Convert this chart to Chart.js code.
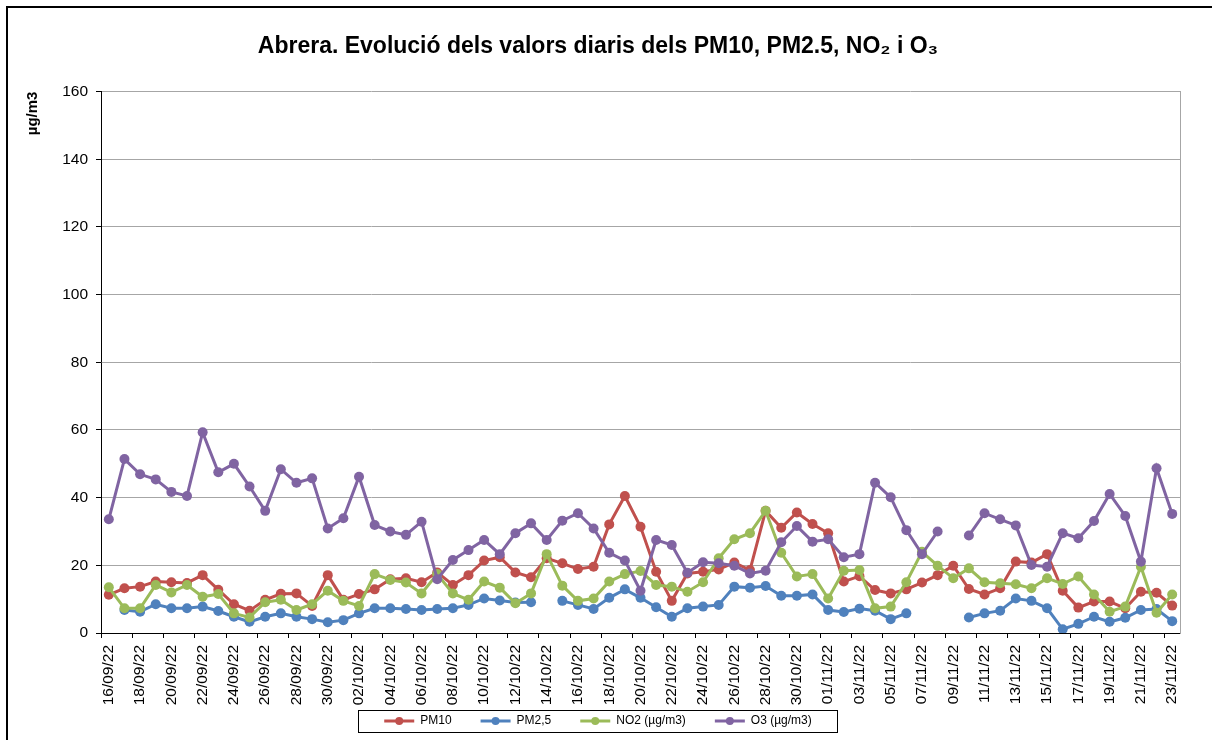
<!DOCTYPE html>
<html><head><meta charset="utf-8">
<script src="https://cdn.jsdelivr.net/npm/chart.js@4.4.1/dist/chart.umd.min.js"></script>
<style>html,body{margin:0;padding:0;background:#fff}#c{display:block}</style>
</head><body>
<canvas id="c" width="1212" height="740"></canvas>
<script>
const categories = [
 '16/09/22','17/09/22','18/09/22','19/09/22','20/09/22','21/09/22','22/09/22','23/09/22','24/09/22','25/09/22',
 '26/09/22','27/09/22','28/09/22','29/09/22','30/09/22','01/10/22','02/10/22','03/10/22','04/10/22','05/10/22',
 '06/10/22','07/10/22','08/10/22','09/10/22','10/10/22','11/10/22','12/10/22','13/10/22','14/10/22','15/10/22',
 '16/10/22','17/10/22','18/10/22','19/10/22','20/10/22','21/10/22','22/10/22','23/10/22','24/10/22','25/10/22',
 '26/10/22','27/10/22','28/10/22','29/10/22','30/10/22','31/10/22','01/11/22','02/11/22','03/11/22','04/11/22',
 '05/11/22','06/11/22','07/11/22','08/11/22','09/11/22','10/11/22','11/11/22','12/11/22','13/11/22','14/11/22',
 '15/11/22','16/11/22','17/11/22','18/11/22','19/11/22','20/11/22','21/11/22','22/11/22','23/11/22'
];
const pm10 = [
 11.3,13.2,13.7,15.2,15.0,14.8,17.1,12.8,8.5,6.6,
 9.8,11.6,11.7,8.0,17.1,9.8,11.5,12.9,15.9,16.2,
 15.0,17.9,14.2,17.1,21.4,22.4,17.9,16.5,22.1,20.6,
 18.9,19.6,32.1,40.5,31.4,18.1,9.5,17.6,18.1,18.8,
 20.8,18.6,36.1,31.1,35.6,32.2,29.5,15.2,16.8,12.7,
 11.7,12.9,14.9,17.1,19.9,13.0,11.4,13.2,21.1,20.8,
 23.3,12.5,7.5,9.3,9.3,7.3,12.2,11.9,8.1
];
const pm25 = [
 null,6.8,6.3,8.5,7.3,7.3,7.8,6.5,4.8,3.3,
 4.8,5.8,4.8,4.1,3.2,3.8,5.8,7.3,7.3,7.1,
 6.8,7.1,7.3,8.3,10.2,9.6,9.0,9.1,null,9.5,
 8.3,7.1,10.4,12.9,10.4,7.6,4.8,7.3,7.8,8.3,
 13.7,13.4,13.9,11.0,11.0,11.4,6.8,6.2,7.2,6.6,
 4.1,5.8,null,null,null,4.6,5.8,6.6,10.2,9.5,
 7.3,1.1,2.7,4.8,3.3,4.5,6.8,7.1,3.5
];
const no2 = [
 13.5,7.3,7.3,14.2,12.0,14.2,10.7,11.5,5.8,4.6,
 9.1,9.8,6.8,8.5,12.5,9.5,8.0,17.4,15.7,14.9,
 11.7,17.4,11.7,9.8,15.2,13.4,8.8,11.7,23.3,14.0,
 9.5,10.2,15.2,17.4,18.3,14.2,13.7,12.2,15.0,22.1,
 27.7,29.5,36.1,23.7,16.7,17.4,10.2,18.4,18.6,7.3,
 7.8,15.0,24.0,19.9,16.2,19.1,15.0,14.7,14.4,13.2,
 16.2,14.5,16.7,11.4,6.3,7.8,19.6,6.0,11.4
];
const o3 = [
 33.6,51.4,46.9,45.4,41.7,40.5,59.3,47.5,50.0,43.3,
 36.1,48.4,44.4,45.7,30.9,33.9,46.2,31.9,30.0,29.0,
 32.9,15.9,21.6,24.5,27.5,23.3,29.5,32.4,27.5,33.2,
 35.4,30.9,23.7,21.4,12.5,27.5,26.0,17.8,20.9,20.6,
 19.9,17.6,18.4,26.8,31.6,27.0,27.7,22.4,23.3,44.4,
 40.1,30.4,23.3,30.0,null,28.8,35.4,33.6,31.8,20.1,
 19.6,29.5,28.0,33.1,41.1,34.6,21.1,48.7,35.2
];
const seriesNames = ['PM10', 'PM2,5', 'NO2 (µg/m3)', 'O3 (µg/m3)'];
const seriesColors = ['#C0504D', '#4F81BD', '#9BBB59', '#8064A2'];
const seriesValues = [pm10, pm25, no2, o3];
const titleText = 'Abrera. Evolució dels valors diaris dels PM10, PM2.5, NO₂ i O₃';
const yAxisTitle = 'µg/m3';

Chart.defaults.font.family = "'Liberation Sans', Arial, Helvetica, sans-serif";
Chart.defaults.color = '#000';

const framePlugin = {
  id: 'frame',
  afterLayout(chart) {
    const lg = chart.legend;
    if (lg) { lg.top -= 22; lg.height += 22; }
  },
  afterDraw(chart) {
    const ctx = chart.ctx;
    ctx.save();
    const lg = chart.legend;
    if (lg && lg.legendHitBoxes && lg.legendHitBoxes.length) {
      const hb = lg.legendHitBoxes;
      const bw = lg.options.labels.boxWidth;
      hb.forEach((h, i) => {
        const item = lg.legendItems[i];
        ctx.beginPath();
        ctx.fillStyle = item.fillStyle;
        ctx.arc(h.left + bw / 2, h.top + h.height / 2, 4, 0, Math.PI * 2);
        ctx.fill();
      });
      const first = hb[0], last = hb[hb.length - 1];
      const cy = first.top + first.height / 2;
      const x0 = Math.round(first.left - 26) + 0.5;
      const x1 = Math.round(last.left + last.width + 25) + 0.5;
      const y0 = Math.round(cy - 11) + 0.5;
      ctx.strokeStyle = '#000';
      ctx.lineWidth = 1;
      ctx.strokeRect(x0, y0, x1 - x0, 22);
    }
    ctx.fillStyle = '#000';
    ctx.fillRect(6, 6, chart.width - 6, 2);
    ctx.fillRect(6, 6, 2, chart.height - 6);
    ctx.restore();
  }
};

const datasets = seriesValues.map((vals, i) => ({
  label: seriesNames[i],
  data: vals,
  borderColor: seriesColors[i],
  backgroundColor: seriesColors[i],
  pointBackgroundColor: seriesColors[i],
  pointBorderColor: seriesColors[i],
  borderWidth: 3,
  pointRadius: 5,
  pointBorderWidth: 0,
  tension: 0,
  spanGaps: false,
  order: seriesValues.length - 1 - i,
  yAxisID: 'y'
}));

new Chart(document.getElementById('c'), {
  type: 'line',
  data: { labels: categories, datasets },
  options: {
    responsive: false,
    animation: false,
    devicePixelRatio: 1,
    layout: { padding: { left: 0, right: 16, top: 0, bottom: 0 } },
    plugins: {
      title: {
        display: true, text: titleText, color: '#000',
        font: { size: 23, weight: 'bold' },
        padding: { top: 33, bottom: 31 }
      },
      legend: {
        display: true, position: 'bottom', maxHeight: 32,
        labels: {
          color: '#000', font: { size: 12 }, padding: 29, boxWidth: 30, boxHeight: 3,
          sort: (a, b) => a.datasetIndex - b.datasetIndex,
          generateLabels(chart) {
            const items = Chart.defaults.plugins.legend.labels.generateLabels(chart);
            items.forEach(it => { it.lineWidth = 0; });
            return items;
          }
        }
      },
      tooltip: { enabled: false }
    },
    scales: {
      x: {
        type: 'category',
        offset: true,
        grid: {
          display: true, drawOnChartArea: false, drawTicks: true, tickLength: 5, offset: true,
          color: 'rgba(0,0,0,0)',
          tickColor: ctx => (ctx.index !== undefined && ctx.index % 2 === 0 ? '#000' : 'rgba(0,0,0,0)')
        },
        border: { display: true, color: '#000', width: 1 },
        ticks: {
          autoSkip: false, maxRotation: 90, minRotation: 90, padding: 7, color: '#000',
          font: { size: 15.5 },
          callback: function (v, i) { return i % 2 === 0 ? this.getLabelForValue(v) : ''; }
        },
        afterFit: s => { s.height = 75; }
      },
      y: {
        position: 'left',
        min: 0, max: 160,
        ticks: { stepSize: 20, color: '#000', font: { size: 15.5 }, padding: 8 },
        grid: { color: '#a6a6a6', lineWidth: 1, tickLength: 5, tickColor: '#000', drawTicks: true },
        border: { display: true, color: '#000', width: 1 },
        title: {
          display: true, text: yAxisTitle, align: 'end', color: '#000',
          font: { size: 15, weight: 'bold' }, padding: { top: 24, bottom: 0 }
        },
        afterFit: s => { s.width = 101; }
      },
      y2: {
        position: 'right', display: true, min: 0, max: 160,
        grid: { display: false, drawOnChartArea: false },
        ticks: { display: false },
        border: { display: true, color: '#a6a6a6', width: 1 },
        afterFit: s => { s.width = 16; }
      }
    }
  },
  plugins: [framePlugin]
});
</script>
</body></html>
